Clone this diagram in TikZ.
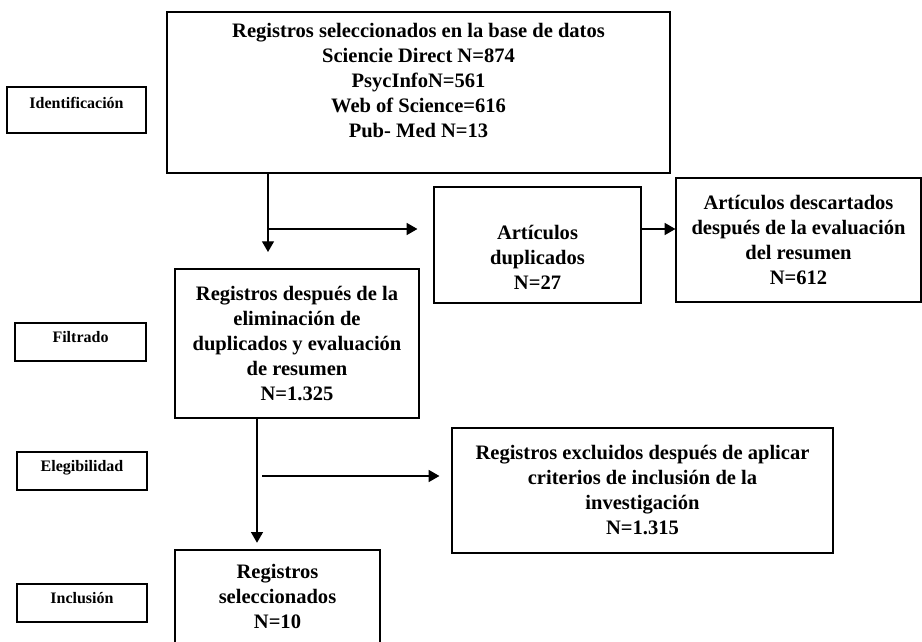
\documentclass[tikz,border=0pt]{standalone}
\usepackage{fontspec}
\setmainfont{Liberation Serif}
\usetikzlibrary{arrows.meta}

\begin{document}
\begin{tikzpicture}[x=0.75pt, y=-0.75pt, >={Triangle[length=8pt, width=9pt]},
	box/.style={draw, line width=0.9pt, align=center, inner sep=2pt,
		font=\fontsize{15.4}{18.75}\selectfont\bfseries},
	stage/.style={draw, line width=0.9pt, align=center, inner sep=2pt,
		text height=8pt, text depth=7pt,
		font=\fontsize{12}{14}\selectfont\bfseries},
	flow/.style={line width=0.9pt, ->}]
	
	\useasboundingbox (0,0) rectangle (922,642);
	
	% Stage labels on the left
	\node[stage, minimum width=104.25pt, minimum height=34.5pt, text depth=10pt] (ident) at (76.5,110) {Identificación};
	\node[stage, minimum width=98.25pt, minimum height=28.5pt] (filt) at (80.5,342) {Filtrado};
	\node[stage, minimum width=97.5pt, minimum height=28.5pt] (eleg) at (82,471) {Elegibilidad};
	\node[stage, minimum width=97.5pt, minimum height=28.5pt] (incl) at (82,603) {Inclusión};
	
	% Records found in the databases
	\node[box, minimum width=377.25pt, minimum height=120.75pt] (top) at (418.5,92.5)
	{Registros seleccionados en la base de datos\\
		Sciencie Direct N=874\\
		PsycInfoN=561\\
		Web of Science=616\\
		Pub- Med N=13\rule[-18pt]{0pt}{1pt}};
	
	% Duplicates and discarded after abstract
	\node[box, minimum width=155.25pt, minimum height=87pt] (dup) at (537.5,245)
	{\rule{0pt}{29pt}Artículos\\ duplicados\\ N=27};
	\node[box, minimum width=183.75pt, minimum height=93pt] (desc) at (798.5,240)
	{Artículos descartados\\ después de la evaluación\\ del resumen\\ N=612};
	
	% After removing duplicates
	\node[box, minimum width=183pt, minimum height=111.75pt] (regdesp) at (297,343.5)
	{Registros después de la\\ eliminación de\\ duplicados y evaluación\\ de resumen\\ N=1.325};
	
	% Excluded after criteria
	\node[box, minimum width=285.75pt, minimum height=93.75pt] (excl) at (642.5,490.5)
	{Registros excluidos después de aplicar\\ criterios de inclusión de la\\ investigación\\ N=1.315};
	
	% Final selection
	\node[box, minimum width=153.75pt, minimum height=69.75pt] (sel) at (277.5,596.5)
	{Registros\\ seleccionados\\ N=10};
	
	% Connectors
	\coordinate (split1) at (268,229);
	\coordinate (tip1) at (268,252);
	\draw[flow] (top.south -| split1) -- (tip1);
	\draw[flow, shorten >=12pt] (split1) -- (split1 -| dup.west);
	\draw[flow] (dup.east |- split1) -- (desc.west |- split1);
	
	\coordinate (split2) at (257,476);
	\draw[flow, shorten >=5pt] (regdesp.south -| split2) -- (split2 |- sel.north);
	\draw[flow, shorten <=4pt, shorten >=9pt] (split2) -- (split2 -| excl.west);
	
\end{tikzpicture}
\end{document}
